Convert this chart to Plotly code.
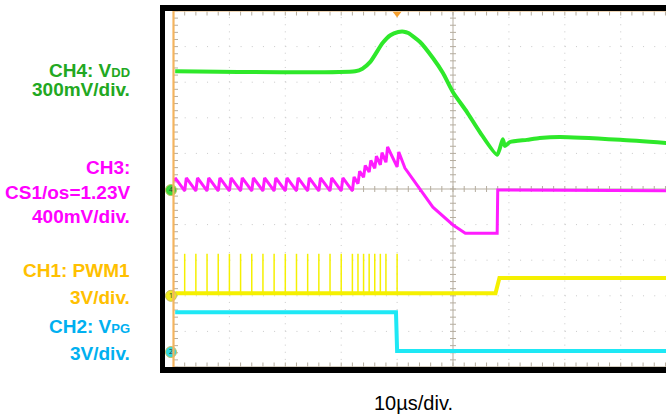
import plotly.graph_objects as go
import numpy as np

# ---------------- data (time in µs, amplitude in divisions) ----------------
vdd_t = [0.3, 32.5, 33.8, 35.2, 37.4, 38.8, 40.2, 41.2, 42.0, 44.1, 46.4, 48.2, 50.0, 52.5, 54.8, 57.9,
         58.9, 59.3, 60.2, 63.2, 65.5, 69.1, 79.9, 88.2]
vdd_v = [3.31, 3.31, 3.38, 3.57, 4.10, 4.32, 4.41, 4.42, 4.38, 4.13, 3.68, 3.26, 2.72, 2.16, 1.60, 0.96,
         1.40, 1.21, 1.32, 1.38, 1.43, 1.46, 1.38, 1.29]

cs_tooth_t = [0, 2, 4, 6, 8, 10, 12, 14, 16, 18, 20, 22, 24, 26, 28, 30, 32, 33, 34, 35, 36, 37, 38, 40]
cs_tooth_lo = [-0.05, -0.05, -0.05, -0.05, -0.05, -0.05, -0.05, -0.05, -0.05, -0.05, -0.05, -0.05,
               -0.05, -0.05, -0.05, -0.05, -0.05, 0.15, 0.33, 0.48, 0.58, 0.68, 0.75, 0.62]
cs_tooth_hi = [0.31, 0.31, 0.31, 0.31, 0.31, 0.31, 0.31, 0.31, 0.31, 0.31, 0.31, 0.31,
               0.31, 0.31, 0.31, 0.31, 0.34, 0.50, 0.66, 0.80, 0.92, 1.02, 1.18, 1.04]
cs_tail_t = [41.4, 46.4, 50.0, 52.2, 57.9, 58.0, 88.2]
cs_tail_v = [0.59, -0.51, -1.01, -1.24, -1.24, -0.03, -0.05]

pwm_pulse_t = [2, 4, 6, 8, 10, 12, 14, 16, 18, 20, 22, 24, 26, 28, 30, 32, 33, 34, 35, 36, 37, 38, 40]
pwm_low = -2.93
pwm_top = -1.82
pwm_base_t = [0.3, 57.6, 58.3, 88.2]
pwm_base_v = [-2.93, -2.93, -2.50, -2.50]

pg_t = [0.3, 39.8, 40.0, 88.2]
pg_v = [-3.46, -3.46, -4.55, -4.55]

trigger_t = 40.0

# ---------------- figure ----------------
X0, X1 = -1.52, 88.1
PXX = 5.59    # px per µs
PXY = 35.6    # px per div

fig = go.Figure()

# graticule: dotted grid
grid_col = "#c9c9c9"
for t in [10, 20, 30, 40, 60, 70, 80]:
    fig.add_shape(type="line", x0=t, x1=t, y0=-5, y1=5, line=dict(color=grid_col, width=1, dash="1px,6.12px"), layer="below")
for v in [-4, -3, -2, -1, 1, 2, 3, 4]:
    fig.add_shape(type="line", x0=0, x1=X1, y0=v, y1=v, line=dict(color=grid_col, width=1, dash="1px,10.18px"), layer="below")

# center lines
cc = "#b5ad9f"
fig.add_shape(type="line", x0=50, x1=50, y0=-5, y1=5, line=dict(color=cc, width=1), layer="below")
fig.add_shape(type="line", x0=0, x1=X1, y0=0, y1=0, line=dict(color=cc, width=1), layer="below")

# tick marks
tx, ty = [], []
for v in np.arange(-5, 5.01, 0.2):
    tx += [50 - 3 / PXX, 50 + 3 / PXX, None]; ty += [v, v, None]
    tx += [0, 4.5 / PXX, None]; ty += [v, v, None]
for t in np.arange(0, 88.1, 2):
    tx += [t, t, None]; ty += [-3 / PXY, 3 / PXY, None]
    tx += [t, t, None]; ty += [5, 5 - 4.5 / PXY, None]
    tx += [t, t, None]; ty += [-5, -5 + 4.5 / PXY, None]
fig.add_trace(go.Scatter(x=tx, y=ty, mode="lines", line=dict(color=cc, width=1), hoverinfo="skip", showlegend=False))

# borders
fig.add_shape(type="line", x0=0, x1=X1, y0=5, y1=5, line=dict(color="#e9c79c", width=1.5))
fig.add_shape(type="line", x0=0, x1=X1, y0=-5, y1=-5, line=dict(color="#c8bfae", width=1.5))
fig.add_shape(type="line", x0=0, x1=0, y0=-5, y1=5, line=dict(color="#f4b45f", width=2.2))

# CH4 VDD
fig.add_trace(go.Scatter(x=vdd_t, y=vdd_v, mode="lines", line=dict(color="#2ee82a", width=4, shape="spline", smoothing=0.6),
                         showlegend=False, hoverinfo="skip"))

# CH3 current sense
cs_x, cs_y = [0.3], [0.22]
for t, lo, hi in zip(cs_tooth_t, cs_tooth_lo, cs_tooth_hi):
    if t > 0:
        cs_x.append(t); cs_y.append(lo)
    cs_x.append(t + 0.3); cs_y.append(hi)
cs_x += cs_tail_t; cs_y += cs_tail_v
fig.add_trace(go.Scatter(x=cs_x, y=cs_y, mode="lines", line=dict(color="#ff1cff", width=3),
                         showlegend=False, hoverinfo="skip"))

# CH1 PWM
px_, py_ = [], []
for t in pwm_pulse_t:
    px_ += [t, t, None]; py_ += [pwm_low, pwm_top, None]
fig.add_trace(go.Scatter(x=px_, y=py_, mode="lines", line=dict(color="#f5f000", width=1.5), showlegend=False, hoverinfo="skip"))
fig.add_trace(go.Scatter(x=pwm_base_t, y=pwm_base_v, mode="lines", line=dict(color="#f5f000", width=4),
                         showlegend=False, hoverinfo="skip"))

# CH2 PG
fig.add_trace(go.Scatter(x=pg_t, y=pg_v, mode="lines", line=dict(color="#1ee8f5", width=4),
                         showlegend=False, hoverinfo="skip"))

# channel ground markers
fig.add_trace(go.Scatter(x=[-0.45, -0.45, -0.45], y=[-0.03, -3.0, -4.58], mode="markers+text",
                         marker=dict(size=11, color=["#3ad83a", "#f0ec20", "#2fd8e0"], line=dict(color="#c8c060", width=1)),
                         text=["4", "1", "2"], textfont=dict(size=7, color="#333333"), textposition="middle center",
                         cliponaxis=False, showlegend=False, hoverinfo="skip"))
# trigger marker
fig.add_trace(go.Scatter(x=[trigger_t], y=[4.93], mode="markers", marker=dict(symbol="triangle-down", size=8, color="#f5a030"),
                         cliponaxis=False, showlegend=False, hoverinfo="skip"))

# black frame (paper coords)
W, H = 666, 414
L, T, B = 165, 11, 47
pw, ph = W - L, H - T - B
def xp(px): return (px - L) / pw
def yp(py): return (H - B - py) / ph
fig.add_shape(type="rect", xref="paper", yref="paper", x0=xp(160), x1=xp(165), y0=yp(373), y1=yp(5), fillcolor="black", line_width=0)
fig.add_shape(type="rect", xref="paper", yref="paper", x0=xp(160), x1=xp(666), y0=yp(11), y1=yp(5), fillcolor="black", line_width=0)
fig.add_shape(type="rect", xref="paper", yref="paper", x0=xp(160), x1=xp(666), y0=yp(373), y1=yp(367), fillcolor="black", line_width=0)

# labels
FONT = "Liberation Sans, Arial, sans-serif"
SUB = '<span style="font-size:13px">{}</span>'
labels = [
    ("CH4: V" + SUB.format("DD"), 70, "#22a822"),
    ("300mV/div.", 89, "#22a822"),
    ("CH3:", 167, "#ff00ff"),
    ("CS1/os=1.23V", 192, "#ff00ff"),
    ("400mV/div.", 216, "#ff00ff"),
    ("CH1: PWM1", 270, "#ffc000"),
    ("3V/div.", 297, "#ffc000"),
    ("CH2: V" + SUB.format("PG"), 326, "#00b0f0"),
    ("3V/div.", 353, "#00b0f0"),
]
for txt, py, col in labels:
    fig.add_annotation(x=xp(132), y=yp(py), xref="paper", yref="paper", text=f"<b>{txt}</b>", showarrow=False,
                       xanchor="right", yanchor="middle", font=dict(family=FONT, size=19, color=col))
fig.add_annotation(x=xp(413), y=yp(403), xref="paper", yref="paper", text="10µs/div.", showarrow=False,
                   xanchor="center", yanchor="middle", font=dict(family=FONT, size=20, color="black"))

fig.update_xaxes(range=[X0, X1], visible=False, fixedrange=True)
fig.update_yaxes(range=[-5, 5], visible=False, fixedrange=True)
fig.update_layout(width=W, height=H, margin=dict(l=L, r=0, t=T, b=B, pad=0),
                  plot_bgcolor="white", paper_bgcolor="white", showlegend=False)

fig.write_html("out.html", config={"displayModeBar": False},
               post_script="document.body.style.margin='0';document.body.style.overflow='hidden';")
